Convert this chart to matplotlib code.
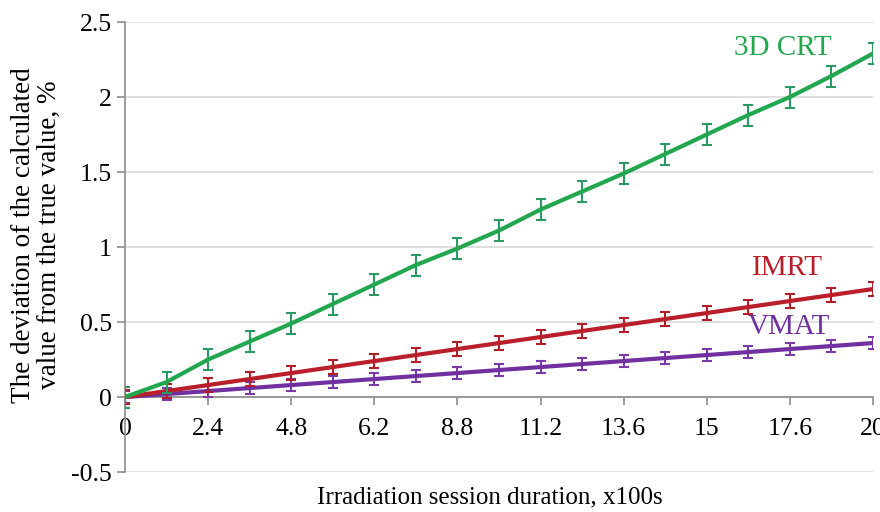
import numpy as np
import matplotlib
matplotlib.use('Agg')
import matplotlib.pyplot as plt

plt.rcParams['font.family'] = ['Liberation Serif', 'DejaVu Serif']

# point index 0..18, labels every second point
idx = np.arange(19)
tick_labels = ['0', '2.4', '4.8', '6.2', '8.8', '11.2', '13.6', '15', '17.6', '20']

crt = [0, 0.10, 0.25, 0.37, 0.49, 0.62, 0.75, 0.88, 0.99, 1.11,
       1.25, 1.37, 1.49, 1.62, 1.75, 1.88, 2.00, 2.14, 2.29]
imrt = [0, 0.04, 0.08, 0.12, 0.16, 0.20, 0.24, 0.28, 0.32, 0.36,
        0.40, 0.44, 0.48, 0.52, 0.56, 0.60, 0.64, 0.68, 0.72]
vmat = [0, 0.02, 0.04, 0.06, 0.08, 0.10, 0.12, 0.14, 0.16, 0.18,
        0.20, 0.22, 0.24, 0.26, 0.28, 0.30, 0.32, 0.34, 0.36]
crt_err = 0.07
imrt_err = 0.045
vmat_err = 0.04

fig = plt.figure(figsize=(8.8, 5.12), dpi=100)
ax = fig.add_axes([0.142, 0.078, 0.850, 0.879])

ax.errorbar(idx, vmat, yerr=vmat_err, color='#7030a0', ecolor='#7a3aa8',
            lw=3, elinewidth=1.5, capsize=3.5, capthick=1.5, zorder=3)
ax.errorbar(idx, imrt, yerr=imrt_err, color='#b81f2b', ecolor='#b01e2a',
            lw=3, elinewidth=1.5, capsize=3.5, capthick=1.5, zorder=4)
ax.errorbar(idx, crt, yerr=crt_err, color='#22a64f', ecolor='#2a9a62',
            lw=3, elinewidth=1.5, capsize=3.5, capthick=1.5, zorder=5)

ax.text(15.83, 2.33, '3D CRT', color='#22a64f', fontsize=21, ha='center', va='center')
ax.text(15.95, 0.86, 'IMRT', color='#b81f2b', fontsize=21, ha='center', va='center')
ax.text(15.98, 0.47, 'VMAT', color='#7030a0', fontsize=21, ha='center', va='center')

ax.set_xlim(0, 18)
ax.set_ylim(-0.5, 2.5)
ax.set_xticks(idx[::2])
ax.set_xticklabels(tick_labels)
ax.set_yticks([-0.5, 0, 0.5, 1, 1.5, 2, 2.5])
ax.set_yticklabels(['-0.5', '0', '0.5', '1', '1.5', '2', '2.5'])
ax.yaxis.grid(True, color='#d9d9d9', lw=1.2)
ax.set_axisbelow(True)

for s in ['top', 'right']:
    ax.spines[s].set_visible(False)
ax.spines['bottom'].set_position(('data', 0))
ax.spines['bottom'].set_color('#8c8c8c')
ax.spines['left'].set_color('#8c8c8c')
ax.spines['bottom'].set_linewidth(1.2)
ax.spines['left'].set_linewidth(1.2)
ax.tick_params(axis='both', colors='#8c8c8c', labelcolor='black', labelsize=18.5,
               length=6, width=1.2)
ax.tick_params(axis='x', pad=9)

ax.set_ylabel('The deviation of the calculated\nvalue from the true value, %',
              fontsize=19.5, linespacing=1.05)
ax.yaxis.set_label_coords(-0.118, 0.527)
ax.yaxis.label.set_va('center')
ax.set_xlabel('Irradiation session duration, x100s', fontsize=18)
ax.xaxis.set_label_coords(0.488, -0.056)
ax.xaxis.label.set_va('center')

fig.savefig('out.png', dpi=100)
